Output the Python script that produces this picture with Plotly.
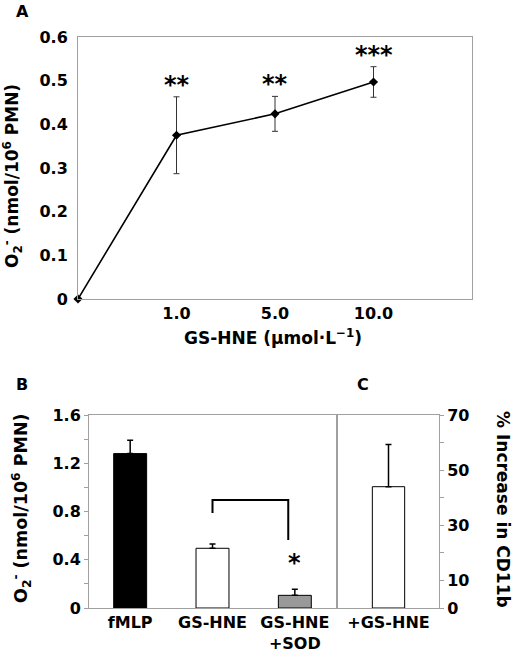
import plotly.graph_objects as go

# ---- Data ----
# Panel A
dose_labels = ["0", "1.0", "5.0", "10.0"]
a_values = [0.0, 0.375, 0.424, 0.497]
a_errors = [0.0, 0.088, 0.040, 0.035]
a_stars = ["", "**", "**", "***"]

# Panel B
b_categories = ["fMLP", "GS-HNE", "GS-HNE<br>+SOD"]
b_values = [1.28, 0.495, 0.105]
b_errors = [0.11, 0.035, 0.05]
b_colors = ["#000000", "#ffffff", "#999999"]

# Panel C
c_categories = ["+GS-HNE"]
c_values = [44.0]
c_errors = [15.3]

W, H = 512, 658
FONT = "DejaVu Sans, Liberation Sans, Arial, sans-serif"
GRID = "#a0a0a0"


def px(x):
    return x / W


def py(y):
    return (H - y) / H


fig = go.Figure()

# Panel A line
fig.add_trace(go.Scatter(
    x=dose_labels, y=a_values, mode="lines+markers",
    line=dict(color="black", width=1.6),
    marker=dict(symbol="diamond", size=7, color="black"),
    error_y=dict(type="data", array=a_errors, color="#333333", thickness=1, width=3),
    xaxis="x", yaxis="y", cliponaxis=False, showlegend=False,
))

# Panel B bars
fig.add_trace(go.Bar(
    x=b_categories, y=b_values, width=0.4,
    marker=dict(color=b_colors, line=dict(color="black", width=1)),
    error_y=dict(type="data", array=b_errors, arrayminus=[0] * len(b_values),
                 symmetric=False, color="black", thickness=1.5, width=3),
    xaxis="x2", yaxis="y2", showlegend=False,
))

# Panel C bar
fig.add_trace(go.Bar(
    x=c_categories, y=c_values, width=0.32,
    marker=dict(color="white", line=dict(color="black", width=1)),
    error_y=dict(type="data", array=c_errors, arrayminus=[0] * len(c_values),
                 symmetric=False, color="black", thickness=1.5, width=3),
    xaxis="x3", yaxis="y3", showlegend=False,
))

tickfont = dict(family=FONT, size=16, color="black", weight="bold")

common = dict(showgrid=False, showline=True, linecolor=GRID, linewidth=1,
              mirror=True, zeroline=False, automargin=False, tickfont=tickfont)

fig.update_layout(
    width=W, height=H,
    margin=dict(l=0, r=0, t=0, b=0),
    paper_bgcolor="white", plot_bgcolor="white",
    font=dict(family=FONT, color="black"),
    xaxis=dict(domain=[px(78), px(472)], anchor="y", type="category",
               range=[0, 4], tickvals=dose_labels[1:], ticks="", **common),
    yaxis=dict(domain=[py(299), py(37)], anchor="x", range=[0, 0.6],
               dtick=0.1, tickformat=".1~f", ticks="", ticklabelstandoff=6,
               **common),
    xaxis2=dict(domain=[px(89), px(336)], anchor="y2", type="category",
                range=[-0.5, 2.5], ticks="", **common),
    yaxis2=dict(domain=[py(608), py(415)], anchor="x2", range=[0, 1.6],
                dtick=0.4, ticks="outside", ticklen=4, tickcolor=GRID,
                minor=dict(dtick=0.2, ticks="outside", ticklen=4, tickcolor=GRID),
                **common),
    xaxis3=dict(domain=[px(338), px(439)], anchor="y3", type="category",
                range=[-0.5, 0.5], ticks="", **common),
    yaxis3=dict(domain=[py(608), py(415)], anchor="x3", side="right",
                range=[0, 70], tickvals=[0, 10, 30, 50, 70],
                ticks="outside", ticklen=4, tickcolor=GRID,
                minor=dict(dtick=10, ticks="outside", ticklen=4, tickcolor=GRID),
                **common),
)

starfont = dict(family=FONT, size=24, color="black", weight="bold")
# significance stars, panel A
for i, (v, e, s) in enumerate(zip(a_values, a_errors, a_stars)):
    if s:
        fig.add_annotation(x=i, y=v + e, xref="x", yref="y", text=s,
                           showarrow=False, xanchor="center", yanchor="bottom",
                           yshift=-4, font=starfont)

# bracket, panel B
fig.add_shape(type="path", xref="x2", yref="y2",
              path="M 1,0.787 L 1,0.895 L 1.92,0.895 L 1.92,0.563",
              line=dict(color="black", width=2))
fig.add_annotation(x=2, y=b_values[2] + b_errors[2], xref="x2", yref="y2",
                   text="*", showarrow=False, xanchor="center", yanchor="bottom",
                   yshift=10, font=starfont)

titlefont = dict(family=FONT, size=17, color="black", weight="bold")
ytitle = "O<sub>2</sub><sup>-</sup> (nmol/10<sup>6</sup> PMN)"
# axis titles
for text, x, y, ang, size in [
    (ytitle, 12, 176, -90, 17),
    ("GS-HNE (µmol·L<sup>−1</sup>)", 273, 337, 0, 17),
    (ytitle, 22, 508, -90, 17.5),
    ("% Increase in CD11b", 503, 509, 90, 17),
]:
    fig.add_annotation(x=px(x), y=py(y), xref="paper", yref="paper", text=text,
                       textangle=ang, showarrow=False, xanchor="center",
                       yanchor="middle", font=dict(titlefont, size=size))

# panel letters
panelfont = dict(family=FONT, size=16, color="black", weight="bold")
for letter, x, y in [("A", 22, 12), ("B", 22, 384), ("C", 363, 384)]:
    fig.add_annotation(x=px(x), y=py(y), xref="paper", yref="paper", text=letter,
                       showarrow=False, xanchor="center", yanchor="middle",
                       font=panelfont)

fig.write_html(
    "out.html",
    config={"displayModeBar": False},
    post_script="document.body.style.margin='0px';document.body.style.overflow='hidden';",
)
